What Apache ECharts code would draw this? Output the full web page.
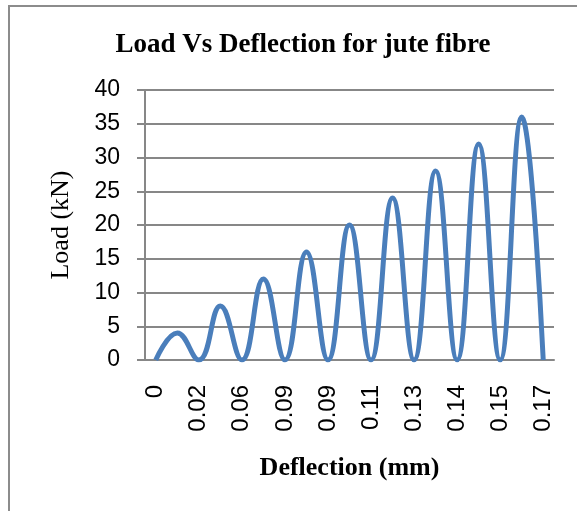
<!DOCTYPE html>
<html>
<head>
<meta charset="utf-8">
<script src="https://cdn.jsdelivr.net/npm/echarts@6/dist/echarts.min.js"></script>
<style>
  html, body { margin: 0; padding: 0; background: #fff; }
  #frame { position: absolute; left: 8px; top: 5px; width: 600px; height: 540px; border: 2px solid #8c8c8c; box-sizing: border-box; }
  #loadChart { position: absolute; left: 0; top: 0; width: 577px; height: 511px; }
</style>
</head>
<body>
<div id="frame"></div>
<div id="loadChart"></div>
<script>
// deflection (mm) – only every other one is labelled on the axis
const deflection = ['0', '0.01', '0.02', '0.04', '0.06', '0.08', '0.09', '0.09', '0.09', '0.10',
                    '0.11', '0.12', '0.13', '0.13', '0.14', '0.15', '0.15', '0.16', '0.17']
// load (kN)
const load = [0, 4, 0, 8, 0, 12, 0, 16, 0, 20, 0, 24, 0, 28, 0, 32, 0, 36, 0]
const yTicks = { min: 0, max: 40, interval: 5 }

var chartDom = document.getElementById('loadChart');
var myChart = echarts.init(chartDom);
var option = {
    animation: false,
    title: {
        text: 'Load Vs Deflection for jute fibre',
        left: 298,
        top: 27,
        textAlign: 'center',
        textStyle: {
            fontFamily: 'Liberation Serif',
            fontWeight: 'bold',
            fontSize: 27,
            color: '#000'
        }
    },
    grid: {
        left: 145,
        right: 23,
        top: 90,
        bottom: 151
    },
    xAxis: {
        type: 'category',
        data: deflection,
        boundaryGap: true,
        name: 'Deflection (mm)',
        nameLocation: 'middle',
        nameGap: 95,
        nameTextStyle: {
            fontFamily: 'Liberation Serif',
            fontWeight: 'bold',
            fontSize: 26,
            color: '#000'
        },
        axisLine: { lineStyle: { color: '#878787', width: 2 } },
        axisTick: { show: false },
        axisLabel: {
            interval: 1,
            rotate: 90,
            margin: 25,
            fontFamily: 'Liberation Sans',
            fontSize: 24,
            color: '#000'
        }
    },
    yAxis: {
        type: 'value',
        min: yTicks.min,
        max: yTicks.max,
        interval: yTicks.interval,
        name: 'Load (kN)',
        nameLocation: 'middle',
        nameGap: 71,
        nameTextStyle: {
            fontFamily: 'Liberation Serif',
            fontSize: 26,
            color: '#000'
        },
        axisLine: { show: true, lineStyle: { color: '#878787', width: 2 } },
        axisTick: { show: true, length: 8, lineStyle: { color: '#878787', width: 2 } },
        splitLine: { lineStyle: { color: '#878787', width: 2 } },
        axisLabel: {
            margin: 25,
            fontFamily: 'Liberation Sans',
            fontSize: 23,
            color: '#000'
        }
    },
    series: [
        {
            type: 'line',
            data: load,
            smooth: 0.45,
            showSymbol: false,
            lineStyle: { color: '#4a7ebb', width: 5 }
        }
    ]
};
option && myChart.setOption(option);
</script>
</body>
</html>
